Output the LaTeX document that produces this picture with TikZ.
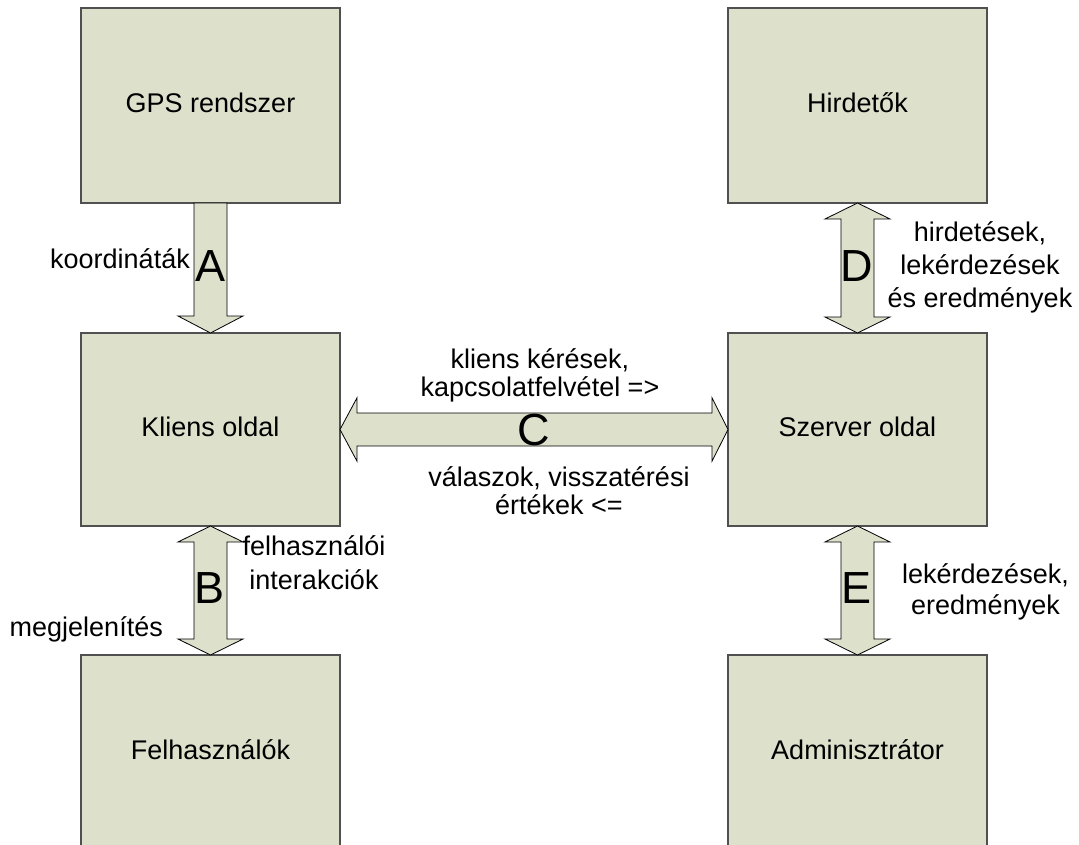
\documentclass[tikz,border=0pt]{standalone}
\usepackage{fontspec}
\setmainfont{Liberation Sans}
\usetikzlibrary{calc}

\definecolor{boxfill}{RGB}{221,224,203}
\definecolor{boxline}{RGB}{80,80,80}

% vertical block arrow with heads at both ends: #1 upper tip, #2 lower tip
\newcommand\vdoublearrow[2]{%
  \draw[blockarrow] (#1) -- ++(32.5,16) -- ++(-16,0) -- ($(#2)+(16.5,-16)$)
    -- ++(16,0) -- (#2) -- ++(-32.5,-16) -- ++(16,0)
    -- ($(#1)+(-16.5,16)$) -- ++(-16,0) -- cycle;}
% horizontal block arrow with heads at both ends: #1 left tip, #2 right tip
\newcommand\hdoublearrow[2]{%
  \draw[blockarrow] (#1) -- ++(17,-31.7) -- ++(0,15.2) -- ($(#2)+(-16,-16.5)$)
    -- ++(0,-15.2) -- (#2) -- ++(-16,31.7) -- ++(0,-15.2)
    -- ($(#1)+(17,16.5)$) -- ++(0,15.2) -- cycle;}

\begin{document}
\begin{tikzpicture}[x=1pt,y=-1pt,
  unit/.style={draw=boxline, line width=1.2pt, fill=boxfill, rectangle,
    minimum width=259pt, inner sep=0pt, outer sep=0pt,
    font=\fontsize{27}{31}\selectfont, text height=20pt, text depth=6pt},
  blockarrow/.style={draw=black, line width=0.8pt, fill=boxfill, line join=miter},
  lbl/.style={inner sep=0pt, align=center, font=\fontsize{27}{31}\selectfont},
  letter/.style={inner sep=0pt, anchor=base, font=\fontsize{45}{50}\selectfont}]
\useasboundingbox (0,0) rectangle (1079,845);
\clip (0,0) rectangle (1079,845);

% units of the system
\node[unit, minimum height=195pt] (gps)    at (210.5,105.5) {GPS rendszer};
\node[unit, minimum height=195pt] (hird)   at (857.5,105.5) {Hirdetők};
\node[unit, minimum height=193pt] (kliens) at (210.5,429.5) {Kliens oldal};
\node[unit, minimum height=193pt] (szerver) at (857.5,429.5) {Szerver oldal};
\node[unit, minimum height=195pt] (felh)   at (210.5,752.5) {Felhasználók};
\node[unit, minimum height=195pt] (admin)  at (857.5,752.5) {Adminisztrátor};

% A: GPS -> client (one-way)
\draw[blockarrow] ($(gps.south)+(-16.5,0)$) -- ($(kliens.north)+(-16.5,-17)$)
  -- ++(-16,0) -- (kliens.north) -- ++(32.5,-17) -- ++(-16,0)
  -- ($(gps.south)+(16.5,0)$) -- cycle;
% B, C, D, E: two-way links
\vdoublearrow{kliens.south}{felh.north}
\hdoublearrow{kliens.east}{szerver.west}
\vdoublearrow{hird.south}{szerver.north}
\vdoublearrow{szerver.south}{admin.north}

% link letters
\node[letter] (la) at (210.5,281) {A};
\node[letter] (lb) at (210,603) {B};
\node[letter] (lc) at (533.5,445) {C};
\node[letter] (ld) at (856.7,281) {D};
\node[letter] (le) at (856,603) {E};

% link descriptions (multi-line ones are placed by their last baseline)
\node[lbl, anchor=base east] (ta) at (190,269) {koordináták};
\node[lbl, anchor=base, font=\fontsize{27}{34}\selectfont] (tb1) at (314,589) {felhasználói\\interakciók};
\node[lbl, anchor=base east] (tb2) at (163,636.7) {megjelenítés};
\node[lbl, anchor=base, font=\fontsize{27}{28}\selectfont] (tc1) at (540,396) {kliens kérések,\\kapcsolatfelvétel =>};
\node[lbl, anchor=base, font=\fontsize{27}{28}\selectfont] (tc2) at (559,514.7) {válaszok, visszatérési\\értékek <=};
\node[lbl, anchor=base, font=\fontsize{27}{33}\selectfont] (td) at (980,307.7) {hirdetések,\\lekérdezések\\és eredmények};
\node[lbl, anchor=base, font=\fontsize{27}{31}\selectfont] (te) at (985.5,614) {lekérdezések,\\eredmények};
\end{tikzpicture}
\end{document}
